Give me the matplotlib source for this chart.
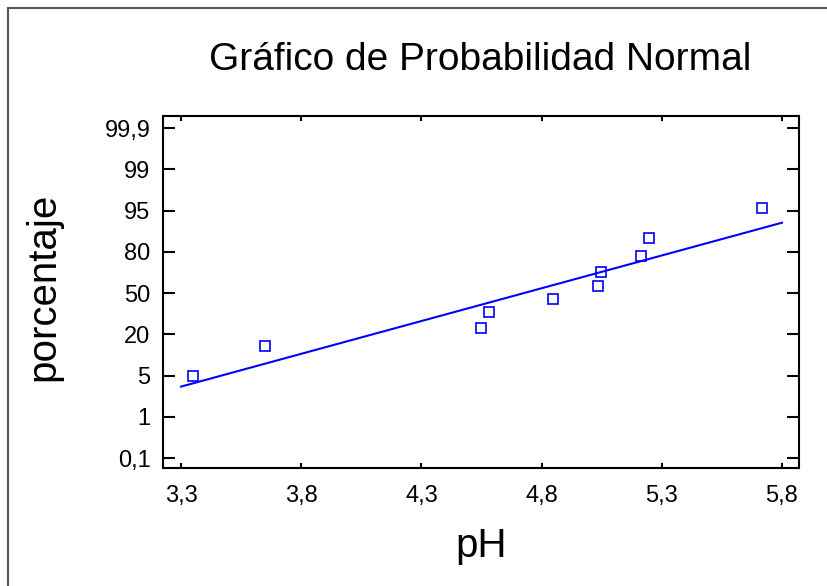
import numpy as np
import matplotlib
matplotlib.use("Agg")
import matplotlib.pyplot as plt
from matplotlib import font_manager
from matplotlib.patches import Rectangle

# pH values (sorted) and their normal scores
ph = [3.351, 3.651, 4.548, 4.582, 4.849, 5.033, 5.048, 5.213, 5.248, 5.716]
z_score = [-1.50, -0.97, -0.64, -0.35, -0.10, 0.13, 0.375, 0.68, 1.00, 1.54]

# fitted reference line end points
line_ph = [3.3, 5.8]
line_z = [-1.70, 1.28]

y_tick_labels = ["0,1", "1", "5", "20", "50", "80", "95", "99", "99,9"]
x_ticks = [3.3, 3.8, 4.3, 4.8, 5.3, 5.8]
x_tick_labels = ["3,3", "3,8", "4,3", "4,8", "5,3", "5,8"]

plt.rcParams["font.family"] = ["Liberation Sans", "DejaVu Sans"]

names = {f.name for f in font_manager.fontManager.ttflist}
if "Liberation Sans Narrow" in names:
    title_family = ["Liberation Sans Narrow", "Liberation Sans"]
    title_size = 32
else:
    title_family = ["Liberation Sans", "DejaVu Sans"]
    title_size = 28

fig = plt.figure(figsize=(8.28, 5.86), dpi=100)
ax = fig.add_axes([163 / 828, 1 - 468 / 586, 636 / 828, 352 / 586])

ax.plot(line_ph, line_z, color="#0000ff", lw=1.5)
ax.plot(ph, z_score, ls="none", marker="s", ms=6.5, mfc="none",
        mec="#0000ff", mew=1.2)

ax.set_xlim(3.225, 5.871)
ax.set_ylim(-3.18, 3.22)
ax.set_yticks(np.linspace(-3, 3, 9))
ax.set_yticklabels(y_tick_labels)
ax.set_xticks(x_ticks)
ax.set_xticklabels(x_tick_labels)

ax.tick_params(axis="y", direction="in", length=8.5, width=1.5,
               left=True, right=True, labelsize=17, pad=9)
ax.tick_params(axis="x", direction="in", length=3.5, width=1.5,
               bottom=True, top=True, labelsize=17, pad=12)
for sp in ax.spines.values():
    sp.set_linewidth(1.5)

fig.text(480 / 828, 1 - 60 / 586, "Gráfico de Probabilidad Normal",
         family=title_family, fontsize=title_size, ha="center", va="center")
fig.text(481 / 828, 1 - 546 / 586, "pH", fontsize=29, ha="center", va="center")
fig.text(43 / 828, 1 - 287 / 586, "porcentaje", fontsize=29, rotation=90,
         ha="center", va="center")

# outer frame of the graphics window
fig.patches.append(Rectangle((8 / 828, -0.05), 1.1, 1.05 - 8 / 586,
                             transform=fig.transFigure, fill=False,
                             edgecolor="#555555", lw=1.5))

fig.savefig("out.png", dpi=100)
